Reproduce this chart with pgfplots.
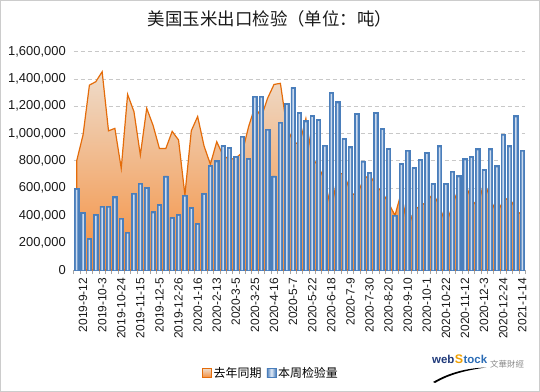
\documentclass[border=0pt]{standalone}
\usepackage{pgfplots}
\usepackage{pgfplotstable}
\pgfplotsset{compat=1.18}
\usepackage{fontspec}
\setmainfont{Liberation Sans}
\newfontfamily\cjk{Noto Sans CJK SC}
\definecolor{barblue}{HTML}{4A7EBB}
\definecolor{barlight}{HTML}{E4ECF7}
\definecolor{arealine}{HTML}{E46C0A}
\definecolor{areatop}{HTML}{EEDCCB}
\definecolor{areabot}{HTML}{F58E3C}
\definecolor{gridgray}{HTML}{C8C8C8}
\definecolor{axisgray}{HTML}{A6A6A6}
\definecolor{webnavy}{HTML}{1F3A7A}
\definecolor{webblue}{HTML}{2B6CB5}
\definecolor{weborange}{HTML}{F0A000}

\pgfplotstableread{
x bar area
0 600000 800000
1 422000 990000
2 232000 1355000
3 408000 1380000
4 469000 1453000
5 469000 1020000
6 537000 1038000
7 381000 745000
8 278000 1287000
9 564000 1160000
10 637000 843000
11 605000 1185000
12 427000 1060000
13 481000 890000
14 689000 890000
15 386000 1016000
16 408000 953000
17 549000 550000
18 459000 1020000
19 342000 1125000
20 562000 910000
21 767000 775000
22 801000 940000
23 913000 840000
24 899000 810000
25 833000 820000
26 982000 860000
27 820000 1050000
28 1275000 1197000
29 1275000 1120000
30 1033000 1260000
31 689000 1360000
32 1084000 1368000
33 1221000 1050000
34 1338000 940000
35 1155000 920000
36 1094000 1110000
37 1133000 820000
38 1104000 760000
39 916000 650000
40 1302000 440000
41 1233000 700000
42 965000 710000
43 904000 570000
44 1148000 540000
45 799000 660000
46 716000 700000
47 1155000 620000
48 1038000 570000
49 891000 490000
50 403000 400000
51 781000 570000
52 879000 300000
53 752000 440000
54 811000 470000
55 862000 500000
56 635000 560000
57 911000 470000
58 635000 330000
59 725000 470000
60 691000 600000
61 816000 635000
62 833000 520000
63 889000 460000
64 737000 650000
65 889000 520000
66 764000 410000
67 996000 510000
68 911000 530000
69 1131000 440000
70 879000 400000
}\data

\begin{document}
\begin{tikzpicture}
\useasboundingbox (0,0) rectangle (540bp,392bp);
\draw[color=black!20, line width=0.8bp] (0.5bp,0.5bp) rectangle (539.5bp,391.5bp);
\node[font=\cjk\fontsize{17.5}{19}\selectfont, text=black!90] at (270bp,373bp) {美国玉米出口检验（单位：吨）};
\begin{axis}[
  at={(73.5bp,122bp)}, anchor=south west,
  scale only axis, width=452bp, height=218.3bp,
  xmin=-0.5, xmax=70.5, ymin=0, ymax=1600000,
  axis x line*=bottom, axis y line*=left,
  y axis line style={draw=none},
  x axis line style={axisgray, line width=0.8bp},
  ytick={0,200000,...,1600000},
  ytick style={draw=none},
  ymajorgrids,
  grid style={gridgray, dash pattern=on 4bp off 3bp, line width=0.7bp},
  scaled y ticks=false,
  /pgf/number format/assume math mode=true,
  yticklabel style={font=\fontsize{13}{15}\selectfont, text=black!90, /pgf/number format/.cd, fixed, 1000 sep={,}},
  xticklabel style={font=\fontsize{12}{14}\selectfont, text=black!90, rotate=90, anchor=east},
  xtick={1,4,...,70},
  xticklabels={2019-9-12,2019-10-3,2019-10-24,2019-11-15,2019-12-5,2019-12-26,2020-1-16,2020-2-13,2020-3-5,2020-3-25,2020-4-16,2020-5-7,2020-5-22,2020-6-18,2020-7-9,2020-7-30,2020-8-20,2020-9-10,2020-10-1,2020-10-22,2020-11-12,2020-12-3,2020-12-24,2021-1-14},
  major x tick style={draw=none},
  minor xtick={-0.5,0.5,...,70.5},
  minor x tick style={axisgray, line width=0.6bp},
  minor tick length=4bp,
  tick align=outside,
  clip=false,
  legend style={at={(0.437,-0.472)}, anchor=center, draw=none, fill=none,
    legend columns=-1, font=\cjk\fontsize{12}{14}\selectfont,
    /tikz/every even column/.append style={column sep=3bp}},
]
\addplot[draw=arealine, line width=1.2bp, top color=areatop, bottom color=areabot, mark=none,
  legend image code/.code={\draw[draw=arealine, line width=0.6bp, top color=areatop, bottom color=areabot] (0bp,-4.5bp) rectangle (9bp,4.5bp);}]
  table[x=x,y=area]{\data} \closedcycle;
\addlegendentry{去年同期}
\addplot[ybar, bar width=4.4bp, draw=barblue, line width=0.7bp, fill=barblue,
  legend image code/.code={\draw[draw=barblue, line width=0.6bp, left color=barblue, right color=barblue, middle color=barlight] (0bp,-4.5bp) rectangle (9bp,4.5bp);}]
  table[x=x,y=bar]{\data};
\addlegendentry{本周检验量}
\addplot[ybar, bar width=1.5bp, draw=none, fill=barlight, fill opacity=0.85, forget plot]
  table[x=x,y expr=\thisrow{bar}-12000]{\data};
\end{axis}
% logo
\node[anchor=base west, inner sep=0, font=\bfseries\fontsize{11.5}{12}\selectfont, text=webnavy] (w) at (432bp,29bp) {web};
\node[anchor=base west, inner sep=0, font=\bfseries\fontsize{12.5}{13}\selectfont, text=weborange] (s) at (w.base east) {S};
\node[anchor=base west, inner sep=0, font=\bfseries\fontsize{11.5}{12}\selectfont, text=webblue] at (s.base east) {tock};
\node[anchor=base west, inner sep=0, font=\cjk\fontsize{8.5}{9}\selectfont, text=black!45] at (490bp,25bp) {文華財經};
\fill[black] (433bp,10bp) .. controls (450bp,20bp) and (468bp,24bp) .. (486bp,24.5bp) .. controls (468bp,22bp) and (450bp,18bp) .. (435bp,9bp) -- cycle;
\end{tikzpicture}
\end{document}
